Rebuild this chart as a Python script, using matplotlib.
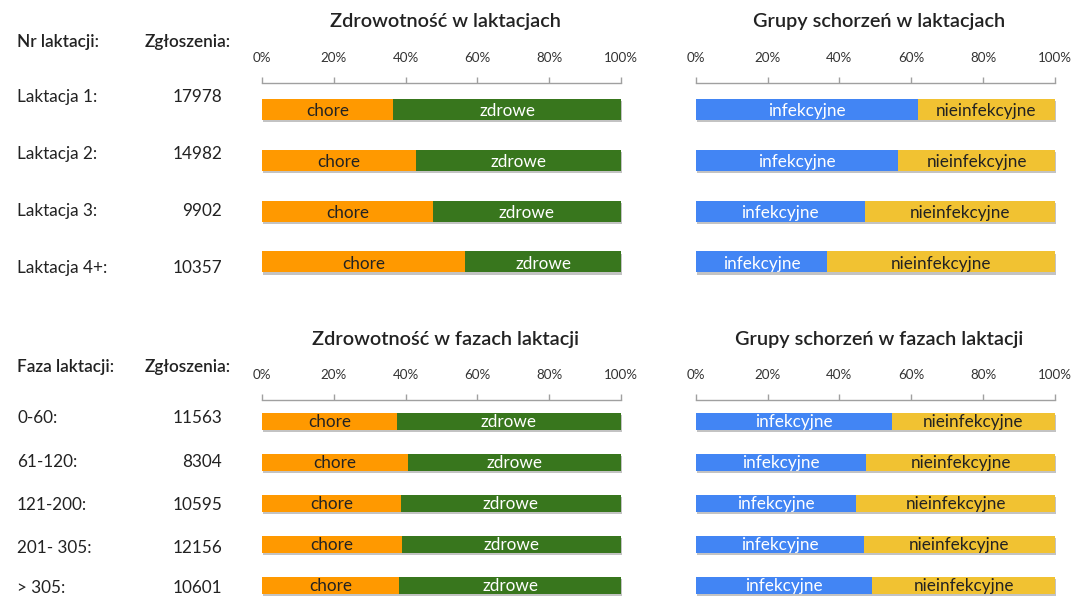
import matplotlib
matplotlib.use("Agg")
import matplotlib.pyplot as plt
import matplotlib.patheffects as pe

plt.rcParams['font.family'] = ['Lato', 'DejaVu Sans']

# ---- data ----
lact_labels = ["Laktacja 1:", "Laktacja 2:", "Laktacja 3:", "Laktacja 4+:"]
lact_counts = ["17978", "14982", "9902", "10357"]
lact_chore = [36.6, 42.8, 47.5, 56.6]          # % chore (rest zdrowe)
lact_infek = [61.8, 56.4, 47.0, 36.6]          # % infekcyjne (rest nieinfekcyjne)

phase_labels = ["0-60:", "61-120:", "121-200:", "201- 305:", "> 305:"]
phase_counts = ["11563", "8304", "10595", "12156", "10601"]
phase_chore = [37.6, 40.7, 38.7, 39.0, 38.2]
phase_infek = [54.6, 47.5, 44.7, 46.8, 49.2]

ticks = [0, 20, 40, 60, 80, 100]
tick_labels = ["0%", "20%", "40%", "60%", "80%", "100%"]

ORANGE = "#ff9900"
GREEN = "#38761d"
BLUE = "#4285f4"
YELLOW = "#f1c232"
DARK = "#222222"

W, H = 1073, 596
fig = plt.figure(figsize=(W / 100, H / 100), dpi=100)


def fx(x):
    return x / W


def fy(y):
    return 1 - y / H


def ftext(x, y, s, **kw):
    fig.text(fx(x), fy(y), s, va='center', color=DARK, **kw)


shadow = [pe.SimplePatchShadow(offset=(1, -1.5), shadow_rgbFace='#555555', alpha=0.35), pe.Normal()]


def make_axes(x0, x1, ytop, ybot, first_center, spacing, n):
    ax = fig.add_axes([fx(x0), fy(ybot), fx(x1) - fx(x0), fy(ytop) - fy(ybot)])
    top = -(first_center - ytop) / spacing
    bot = (n - 1) + (ybot - (first_center + (n - 1) * spacing)) / spacing
    ax.set_ylim(bot, top)
    ax.set_xlim(0, 100)
    for s in ['left', 'right', 'bottom']:
        ax.spines[s].set_visible(False)
    ax.spines['top'].set_color('#a0a0a0')
    ax.spines['top'].set_linewidth(1)
    ax.xaxis.tick_top()
    ax.set_xticks(ticks)
    ax.set_xticklabels(tick_labels)
    ax.tick_params(axis='x', length=4.5, width=1, color='#a0a0a0', pad=9,
                   labelsize=9.6, labelcolor='#333333', direction='out')
    ax.set_yticks([])
    ax.patch.set_alpha(0)
    return ax


def draw_bars(ax, first_vals, lab1, lab2, c1, c2, tc1, tc2, height, fs):
    n = len(first_vals)
    ys = list(range(n))
    rest = [100 - v for v in first_vals]
    b1 = ax.barh(ys, first_vals, height=height, color=c1, linewidth=0)
    b2 = ax.barh(ys, rest, left=first_vals, height=height, color=c2, linewidth=0)
    for b in list(b1) + list(b2):
        b.set_path_effects(shadow)
        b.set_clip_on(False)
    for y, v in zip(ys, first_vals):
        ax.text(v / 2, y + 0.03, lab1, ha='center', va='center', color=tc1, fontsize=fs)
        ax.text(v + (100 - v) / 2, y + 0.03, lab2, ha='center', va='center', color=tc2, fontsize=fs)


# ---- top section ----
ax1 = make_axes(262, 621, 82.7, 285, 109, 51, 4)
draw_bars(ax1, lact_chore, "chore", "zdrowe", ORANGE, GREEN, DARK, 'white', 21 / 51, 12.3)
ax2 = make_axes(695.7, 1055, 82.7, 285, 109, 51, 4)
draw_bars(ax2, lact_infek, "infekcyjne", "nieinfekcyjne", BLUE, YELLOW, 'white', DARK, 21 / 51, 12.3)

# ---- bottom section ----
ax3 = make_axes(262, 621, 400, 596, 421, 41, 5)
draw_bars(ax3, phase_chore, "chore", "zdrowe", ORANGE, GREEN, DARK, 'white', 17 / 41, 12.3)
ax4 = make_axes(695.7, 1055, 400, 596, 421, 41, 5)
draw_bars(ax4, phase_infek, "infekcyjne", "nieinfekcyjne", BLUE, YELLOW, 'white', DARK, 17 / 41, 12.3)

# titles
TFS = 14.3
ftext(445, 22, "Zdrowotność w laktacjach", ha='center', fontsize=TFS, fontweight='semibold')
ftext(879, 22, "Grupy schorzeń w laktacjach", ha='center', fontsize=TFS, fontweight='semibold')
ftext(445, 340, "Zdrowotność w fazach laktacji", ha='center', fontsize=TFS, fontweight='semibold')
ftext(879, 340, "Grupy schorzeń w fazach laktacji", ha='center', fontsize=TFS, fontweight='semibold')

# left tables
LFS = 12.3
ftext(17, 42, "Nr laktacji:", ha='left', fontsize=LFS, fontweight='semibold')
ftext(231, 42, "Zgłoszenia:", ha='right', fontsize=LFS, fontweight='semibold')
for lab, cnt, y in zip(lact_labels, lact_counts, [97, 154, 211.5, 268.3]):
    ftext(17, y, lab, ha='left', fontsize=LFS)
    ftext(222, y, cnt, ha='right', fontsize=LFS)

ftext(17, 367, "Faza laktacji:", ha='left', fontsize=LFS, fontweight='semibold')
ftext(231, 367, "Zgłoszenia:", ha='right', fontsize=LFS, fontweight='semibold')
for lab, cnt, y in zip(phase_labels, phase_counts, [418.3, 461.7, 505, 547.7, 588.3]):
    ftext(17, y, lab, ha='left', fontsize=LFS)
    ftext(222, y, cnt, ha='right', fontsize=LFS)

fig.savefig("out.png", dpi=100)
